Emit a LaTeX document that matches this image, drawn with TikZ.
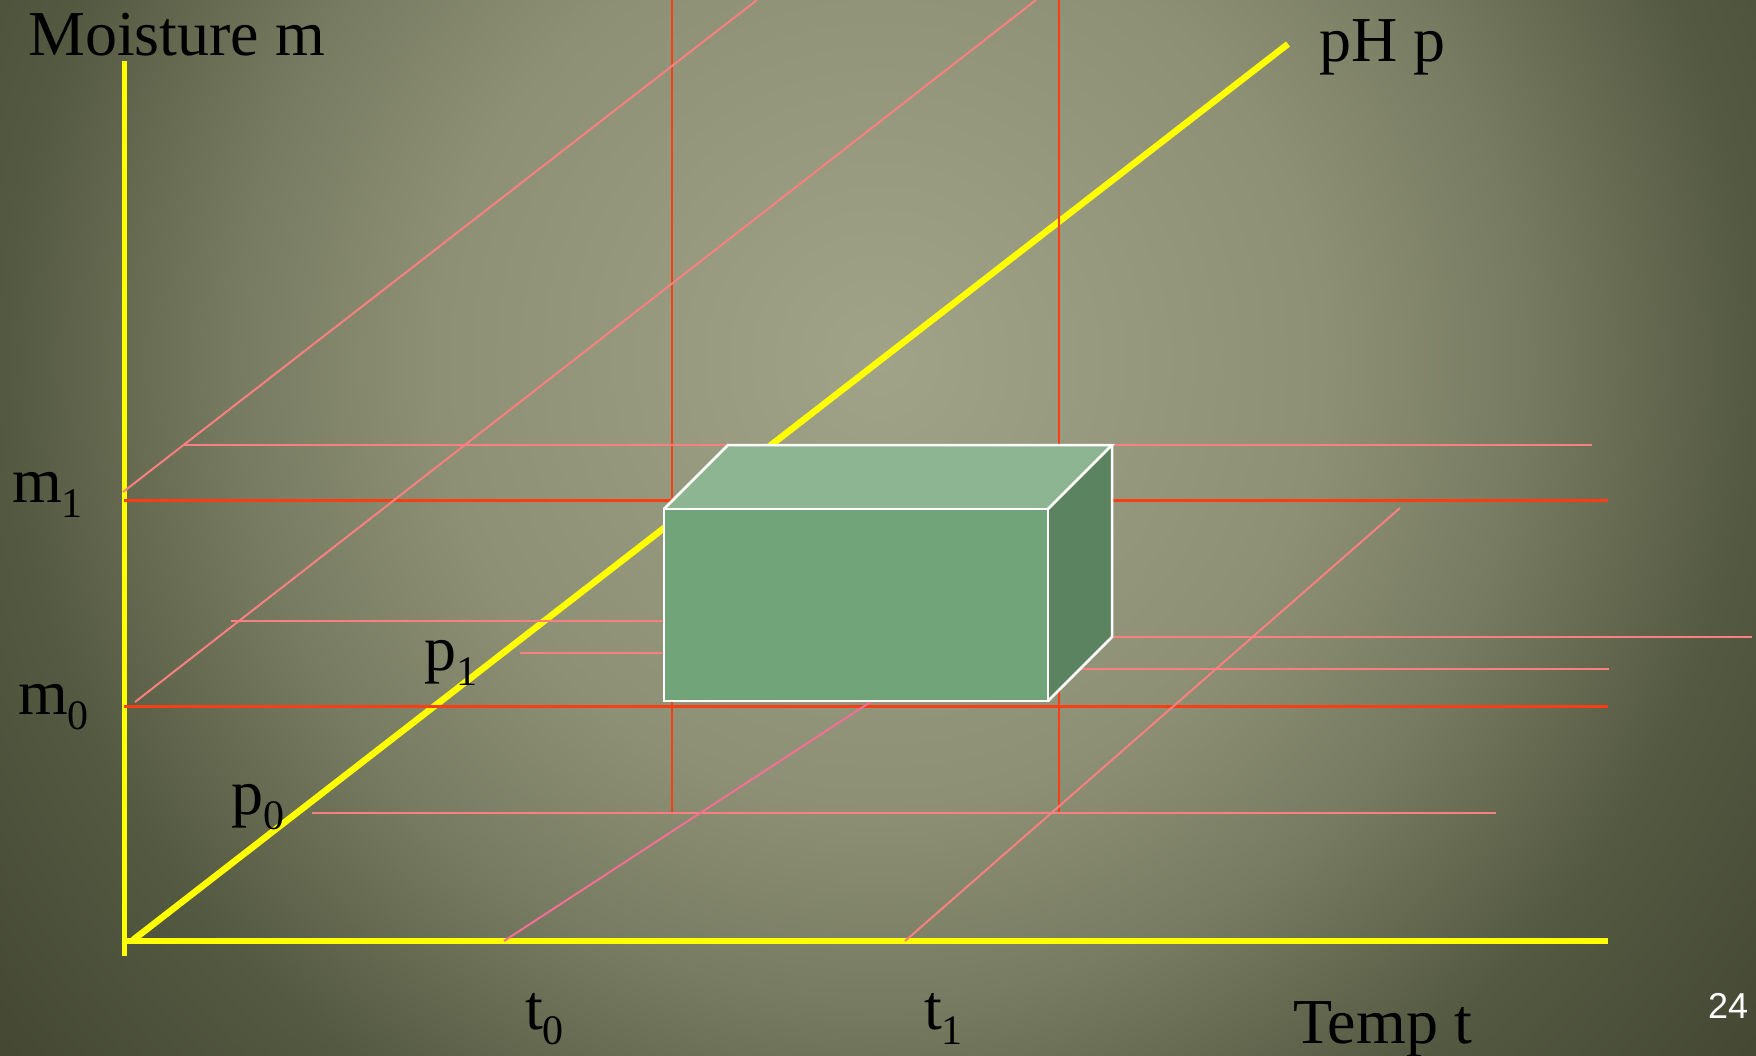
\documentclass[tikz,border=0pt]{standalone}
\usepackage{fontspec}
\setmainfont{Liberation Serif}
\newfontfamily\numfont{Liberation Sans}
\definecolor{bgA}{RGB}{160,163,136}
\definecolor{bgB}{RGB}{141,144,116}
\definecolor{bgC}{RGB}{119,123,97}
\definecolor{bgD}{RGB}{84,89,65}
\definecolor{bgE}{RGB}{66,70,50}
\pgfdeclareradialshading{bgshade}{\pgfpoint{0bp}{0bp}}{color(0bp)=(bgA); color(9.6bp)=(bgB); color(14bp)=(bgC); color(19bp)=(bgD); color(25bp)=(bgE); color(50bp)=(bgE)}
\definecolor{axisY}{RGB}{255,255,0}
\definecolor{gridR}{RGB}{250,62,20}
\definecolor{gridP}{RGB}{250,128,128}
\definecolor{gridPk}{RGB}{245,110,150}
\definecolor{boxF}{RGB}{114,164,122}
\definecolor{boxT}{RGB}{141,181,146}
\definecolor{boxS}{RGB}{92,131,96}
\newcommand\sublbl[2]{#1\raisebox{-15pt}{\fontsize{42}{42}\selectfont #2}}
\tikzset{
  axisline/.style={draw=axisY, line width=6pt},
  redline/.style={draw=gridR, line width=2pt},
  redthick/.style={draw=gridR, line width=3pt},
  pinkline/.style={draw=gridP, line width=2pt},
  lbl/.style={anchor=base west, inner sep=0pt, font=\fontsize{64}{70}\selectfont, text=black},
  boxedge/.style={draw=white, line width=2.5pt, line join=miter},
}
\begin{document}
\begin{tikzpicture}[x=1pt,y=-1pt]
\useasboundingbox (0,0) rectangle (1756,1056);
% background
\fill[bgE] (0,0) rectangle (1756,1056);
\begin{scope}
  \clip (0,0) rectangle (1756,1056);
  \shade[shading=bgshade] (880,360) circle[radius=1150pt];
\end{scope}

% coordinates
\coordinate (origin) at (124,941);
\coordinate (ytop) at (124,61);
\coordinate (ybot) at (124,956);
\coordinate (xend) at (1608,941);
\coordinate (pstart) at (133,940);
\coordinate (pend) at (1288,44);

% yellow axes
\draw[axisline, line width=5pt] (ytop) -- (ybot);
\draw[axisline] (origin) -- (xend);
\draw[axisline, line width=6.5pt] (pstart) -- (pend);

% red grid lines
\draw[redline] (672,0) -- (672,813);
\draw[redline] (1059,0) -- (1059,813);
\draw[redthick] (124,500) -- (1608,500);
\draw[redthick] (124,706) -- (1608,706);

% pink lines
\draw[pinkline] (123,492) -- (757,0);
\draw[pinkline] (135,702) -- (1036,0);
\draw[pinkline] (183,445) -- (1592,445);
\draw[pinkline] (231,621) -- (664,621);
\draw[pinkline] (520,653) -- (664,653);
\draw[pinkline] (1112,637) -- (1752,637);
\draw[pinkline] (1080,669) -- (1609,669);
\draw[pinkline] (312,813) -- (1496,813);
\draw[pinkline, draw=gridPk] (504,941) -- (872,701);
\draw[pinkline] (905,941) -- (1400,508);

% box
\coordinate (fbl) at (664,701);
\coordinate (fbr) at (1048,701);
\coordinate (ftl) at (664,509);
\coordinate (ftr) at (1048,509);
\coordinate (btl) at (728,445);
\coordinate (btr) at (1112,445);
\coordinate (bbr) at (1112,637);
\fill[boxF] (fbl) -- (fbr) -- (ftr) -- (ftl) -- cycle;
\fill[boxT] (ftl) -- (ftr) -- (btr) -- (btl) -- cycle;
\fill[boxS] (fbr) -- (bbr) -- (btr) -- (ftr) -- cycle;
\draw[boxedge] (fbl) -- (fbr) -- (ftr) -- (ftl) -- cycle;
\draw[boxedge] (ftl) -- (btl) -- (btr) -- (ftr);
\draw[boxedge] (btr) -- (bbr) -- (fbr);

% labels
\node[lbl] (moist) at (28,56) {Moisture m};
\node[lbl] (ph) at (1319,62) {pH p};
\node[lbl] (m1) at (12,502) {\sublbl{m}{1}};
\node[lbl] (m0) at (18,714) {\sublbl{m}{0}};
\node[lbl] (p1) at (424,670) {\sublbl{p}{1}};
\node[lbl] (p0) at (231,814) {\sublbl{p}{0}};
\node[lbl] (t0) at (525,1029) {\sublbl{t}{0}};
\node[lbl] (t1) at (924,1029) {\sublbl{t}{1}};
\node[lbl] (temp) at (1293,1043) {Temp t};
\node[anchor=base west, inner sep=0pt, font=\numfont\fontsize{36}{40}\selectfont, text=white] (pg) at (1708,1018) {24};
\end{tikzpicture}
\end{document}
